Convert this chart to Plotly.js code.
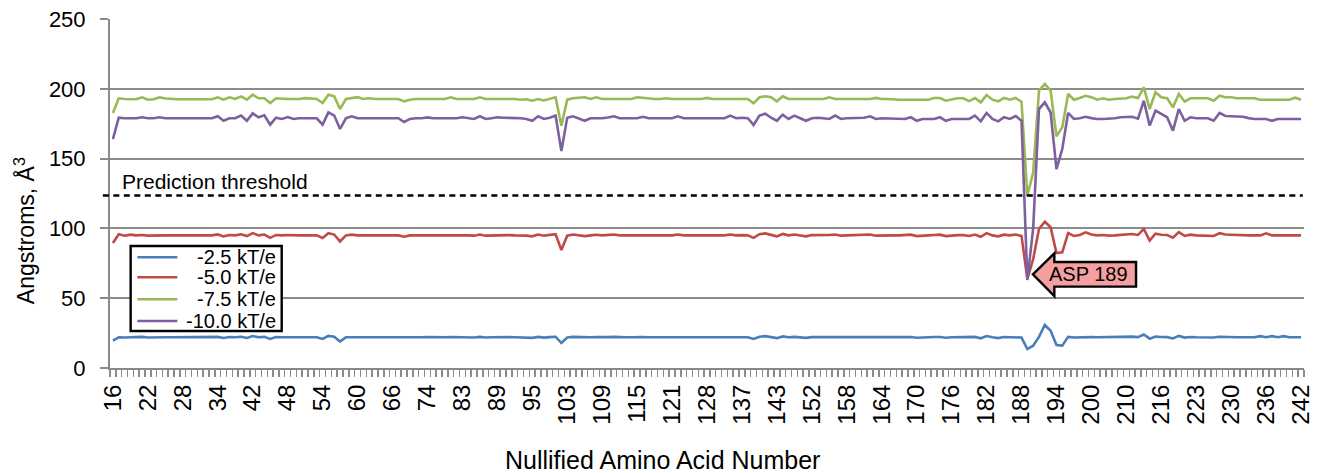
<!DOCTYPE html>
<html>
<head>
<meta charset="utf-8">
<script src="https://cdn.plot.ly/plotly-3.0.1.min.js"></script>
<style>
html,body{margin:0;padding:0;background:#fff;}
#chart{width:1325px;height:473px;}
</style>
</head>
<body>
<div id="chart"></div>
<script>
// Nullified amino acid numbers (categories)
const categories = [
16,17,18,19,20,21, 22,23,24,25,26,27, 28,29,30,31,32,33, 34,35,36,37,40,41,
42,43,44,45,46,47, 48,49,50,51,52,53, 54,55,56,57,58,59, 60,61,62,63,64,65,
66,67,68,69,72,73, 74,75,76,77,81,82, 83,84,85,86,87,88, 89,90,91,92,93,94,
95,96,97,98,101,102, 103,104,105,106,107,108, 109,110,111,112,113,114, 115,116,117,118,119,120,
121,122,123,124,126,127, 128,129,130,131,135,136, 137,138,139,140,141,142, 143,144,145,146,150,151,
152,153,154,155,156,157, 158,159,160,161,162,163, 164,165,166,167,168,169, 170,171,172,173,174,175,
176,177,178,179,180,181, 182,183,184,185,186,187, 188,189,190,191,192,193, 194,195,196,197,198,199,
200,201,202,203,208,209, 210,211,212,213,214,215, 216,217,218,219,221,222, 223,224,225,226,228,229,
230,231,232,233,234,235, 236,237,238,239,240,241, 242
];

// Labelled ticks on the x axis
const tickLabels = [16,22,28,34,42,48,54,60,66,74,83,89,95,103,109,115,121,128,137,143,152,158,164,170,176,182,188,194,200,210,216,223,230,236,242];

// -2.5 kT/e
const s25 = [
19.6,22,21.8,22,22,22.3,21.8,22,22.3,22,
22,22,22,22,22,22,22,22,22.3,21.5,
22.2,22,22.4,21.5,22.9,22,22.3,20.8,22.2,22,
22.2,22,22,22,22,22,20.8,23,22.4,18.9,
22,22.2,22,22,22,22,22,22,22,22,
21.5,22,22,22,22.2,22,22,22,22.2,22,
22.2,22,21.8,22.3,21.8,22,22.2,22.1,22.1,22,
22,21.8,21.6,22.3,21.8,22.1,22.4,17.9,21.8,22.3,
22.2,21.6,22,22.2,22,22.1,22.3,22,22,22,
22.2,22.2,22,22,22,22,22,22.3,22,22,
22,22,22.2,22,22,22,22.3,22,22.1,22,
20.8,22.4,22.8,22.1,21.4,22.6,22,22.3,22,21.6,
22.1,22.1,22,22.2,22.3,21.8,22,22.1,22,22.1,
22.3,21.8,22,22,22,22,22,22.2,21.7,22,
22,22.2,22.2,21.7,22,22.1,22.1,21.8,22.3,21.3,
22.9,22,21.4,22.2,22,22.3,21.8,13.6,16,22.3,
30.8,26.7,16.5,16,22.3,21.8,22,22.4,22.1,22,
22.1,21.8,22,22.2,22.2,22.5,22.1,24,21,22.5,
22.2,22.1,21.2,23,21.8,22.2,22,22,22,21.8,
22.4,22.1,22.1,22,22,22,22,22.8,22,22.8,
22,22.8,22,22,22
];

// -5.0 kT/e
const s50 = [
89.6,95.8,94.8,95.5,95,95.3,94.8,95,95.3,95,
95,95,95,95,95,95,95,95,95.7,94.3,
95.3,95,95.8,94.5,96.6,95,95.6,93.2,95.3,95,
95.3,95,95,95,95,95,93.2,96.6,95.6,90.6,
95,95.5,95,95,95,95,95,95,95,95,
94,95,95,95,95.3,95,95,95,95.5,95,
95.3,95,94.8,95.6,94.8,95,95.3,95.2,95.2,95,
95,94.8,94.3,95.6,94.8,95.2,95.8,84.5,94.8,95.6,
95.3,94.5,95,95.4,95,95.2,95.6,95,95,95,
95.4,95.5,95,95,95,95,95,95.6,95,95,
95,95,95.3,95,95,95,95.6,95,95.2,95,
93.2,95.8,96.4,95.2,94.3,96,95,95.6,95,94.3,
95.2,95.2,95,95.3,95.6,94.8,95,95.2,95,95.2,
95.6,94.8,95,95,95,95,95,95.5,94.5,95,
95,95.3,95.5,94.5,95,95.2,95.2,94.6,95.6,94,
96.6,95,94.3,95.5,95,95.6,94.6,63.8,78,99.6,
104.8,100.8,82.4,82.9,96.7,94.6,95.3,97.2,95.6,95,
95.3,94.8,95,95.3,95.3,96,95.3,99.6,91.3,96.2,
95.5,95.3,93.3,97.3,94.6,95.5,95,95,95,94.6,
96.6,95.6,95.5,95.2,95,95,95,95,96.5,95,
95,95,95,95,95
];

// -7.5 kT/e
const s75 = [
182.7,193.2,192.7,192.5,192.5,193.9,192.2,192.5,193.9,193,
192.5,192.5,192.5,192.5,192.5,192.5,192.5,192.5,193.9,192.2,
193.9,192.7,194.6,192.2,195.8,193.2,193.2,189.8,193.2,192.7,
192.7,192.7,192.7,193.3,193.2,192.7,189.8,195.8,194.6,185.5,
192.7,193.2,194,192.7,193.2,192.7,192.7,192.7,193.2,192.7,
191,192.2,192.7,192.7,192.7,193.2,192.7,192.7,193.9,192.7,
192.7,192.7,192.7,193.9,192.7,192.7,192.7,192.7,193.2,192.7,
192.2,192.5,191.5,192.7,191.7,192.7,193.9,173.6,192.2,193.2,
193.5,193.9,192.7,193.9,192.7,192.7,192.7,192.7,193.2,192.7,
193.9,193.5,192.7,192.7,192.7,193.2,192.7,192.7,192.7,192.7,
192.7,192.7,193.5,192.7,192.7,192.7,193.2,192.7,192.7,192.7,
189.6,193.9,194.6,193.9,191,194.6,192.7,192.7,192.7,192.7,
193.2,192.7,192.7,193.9,192.7,192.7,192.7,193.2,192.7,192.7,
192.7,193.5,192.7,192.7,192.2,192.2,192.2,192.2,192.2,192.2,
192.2,193.4,193.4,191.5,192.2,193.2,193.2,191.2,193.4,190.3,
195.5,192.2,191,193.4,192.2,193.4,190.8,123.4,140,198.6,
203.4,198.6,166,172.4,196.3,192.2,193.4,195,194,192.2,
193.2,192.2,192.7,193.2,193.2,194.4,193.4,201,185.5,197.5,
194,193.2,186.7,196.3,190.8,193.2,193.2,193.2,193.2,191.5,
195,194,194,193.2,193.2,193.2,193.2,192.2,192.2,192.2,
192.2,192.2,192.2,193.6,192.2
];

// -10.0 kT/e
const s100 = [
164,179.3,178.9,178.9,178.9,179.6,178.9,178.9,179.6,178.9,
178.9,178.9,178.9,178.9,178.9,178.9,178.9,178.9,180.3,177.1,
178.9,178.9,180.8,177.1,182.4,179.6,181,174.3,179.3,178.4,
179.8,178.4,178.9,178.9,178.9,178.9,174.3,183.1,180.8,171.2,
178.9,180.3,178.9,178.9,178.9,178.9,178.9,178.9,178.9,178.9,
176.2,178.4,178.9,178.9,179.5,178.9,178.9,178.9,178.9,178.9,
179.6,178.9,178.4,180.3,178.4,178.9,179.6,179.3,179.3,178.9,
178.9,178.4,177.1,180.3,178.4,179.3,180.8,155.4,179.3,180.3,
178.9,177.1,178.9,178.9,178.9,179.5,180.3,178.9,178.9,178.9,
178.9,180,178.9,178.9,178.9,178.9,178.9,180.3,178.9,178.9,
178.9,178.9,178.9,178.9,178.9,178.9,180.8,178.9,179.3,178.9,
174.1,180.8,182.2,179.3,177.1,181.5,178.4,180.8,178.9,177.1,
178.9,179.3,178.9,178.4,180.8,178.4,178.9,178.9,178.9,179.3,
180.3,178.4,178.9,178.9,178.9,178.4,178.4,179.6,177.1,178.4,
178.4,178.4,179.6,177.1,178.4,178.4,178.4,178.4,180.8,176.7,
182.7,178.4,176.7,179.6,178.4,180.5,177.1,63,100,185.5,
190.3,183,142.5,156.9,182.7,178.4,178.9,180,179,178.4,
178.4,178.4,178.9,179.6,179.6,180,178.6,191.5,173.6,184.3,
182,179.6,170,185.5,177.1,179.6,178.9,178.9,178.9,177.1,
182.7,180.5,180.5,180,180,179,178.4,178.4,178.4,177.1,
178.4,178.4,178.4,178.4,178.4
];

const seriesNames = ['-2.5 kT/e', '-5.0 kT/e', '-7.5 kT/e', '-10.0 kT/e'];
const seriesValues = [s25, s50, s75, s100];
const seriesColors = ['#4a7ebb', '#be4b48', '#98b954', '#7d60a0'];

const threshold = 123.5;
const thresholdLabel = 'Prediction threshold';
const calloutCategory = 189;
const calloutValue = 63.5;
const calloutLabel = 'ASP 189';
const xTitle = 'Nullified Amino Acid Number';
const yTitle = 'Angstroms, Å<sup>3</sup>';

const FONT = 'Arial, "Liberation Sans", sans-serif';
const xcat = categories.map(String);
const calloutIndex = categories.indexOf(calloutCategory);

const traces = seriesValues.map((vals, i) => ({
  type: 'scatter',
  mode: 'lines',
  x: xcat,
  y: vals,
  name: seriesNames[i],
  showlegend: false,
  line: {color: seriesColors[i], width: 2.6},
  hoverinfo: 'x+y+name'
}));

// Boxed legend in the lower-left of the plot (paper coordinates)
const legendBox = {x0: 0.0173, x1: 0.1438, y0: 0.106, y1: 0.3496};
const legendRowsY = [0.3172, 0.2599, 0.1968, 0.1347];
const legendShapes = [{
  type: 'rect', xref: 'paper', yref: 'paper',
  x0: legendBox.x0, x1: legendBox.x1, y0: legendBox.y0, y1: legendBox.y1,
  fillcolor: '#ffffff', line: {color: '#000000', width: 2.4}
}].concat(seriesNames.map((n, i) => ({
  type: 'line', xref: 'paper', yref: 'paper',
  x0: 0.0229, x1: 0.0564, y0: legendRowsY[i], y1: legendRowsY[i],
  line: {color: seriesColors[i], width: 2.6}
})));
const legendTexts = seriesNames.map((n, i) => ({
  xref: 'paper', yref: 'paper', x: 0.1395, y: legendRowsY[i],
  xanchor: 'right', yanchor: 'middle', showarrow: false,
  text: n, font: {family: FONT, size: 20, color: '#000000'}, borderpad: 0
}));

const layout = {
  width: 1325,
  height: 473,
  margin: {l: 110, r: 21, t: 19, b: 105, pad: 0},
  paper_bgcolor: '#ffffff',
  plot_bgcolor: '#ffffff',
  font: {family: FONT, color: '#000000', size: 22},
  showlegend: false,
  xaxis: {
    type: 'category',
    range: [-0.5, 204.5],
    tickmode: 'array',
    tickvals: xcat,
    ticktext: categories.map(c => tickLabels.includes(c) ? String(c) : ''),
    tickangle: -90,
    tickson: 'boundaries',
    ticks: 'outside',
    ticklen: 7,
    tickwidth: 1.5,
    tickcolor: '#8a8a8a',
    tickfont: {family: FONT, size: 24, color: '#000000'},
    ticklabelstandoff: 5,
    showgrid: false,
    zeroline: false,
    showline: true,
    linecolor: '#8a8a8a',
    linewidth: 2,
    automargin: false
  },
  yaxis: {
    range: [0, 250],
    tickmode: 'linear',
    tick0: 0,
    dtick: 50,
    ticks: 'outside',
    ticklen: 8,
    tickwidth: 2,
    tickcolor: '#8a8a8a',
    tickfont: {family: FONT, size: 22, color: '#000000'},
    ticklabelstandoff: 10,
    showgrid: true,
    gridcolor: '#8c8c8c',
    gridwidth: 2,
    zeroline: false,
    showline: true,
    linecolor: '#8a8a8a',
    linewidth: 2,
    automargin: false
  },
  shapes: [
    {
      type: 'line', xref: 'paper', yref: 'y',
      x0: -0.006, x1: 0.999, y0: threshold, y1: threshold,
      line: {color: '#000000', width: 2.5, dash: '6px,4.5px'}
    },
    {
      type: 'path', xref: 'x', yref: 'y',
      xsizemode: 'pixel', ysizemode: 'pixel',
      xanchor: calloutIndex, yanchor: calloutValue,
      path: 'M 5.5,5 L 27,26 L 27,17.3 L 108.7,17.3 L 108.7,-7.3 L 27,-7.3 L 27,-16.7 Z',
      fillcolor: '#f4a0a0',
      line: {color: '#000000', width: 2.4}
    }
  ].concat(legendShapes),
  annotations: [
    {
      xref: 'paper', yref: 'y', x: 0.0085, y: threshold,
      xanchor: 'left', yanchor: 'bottom', yshift: 1,
      text: thresholdLabel, showarrow: false,
      font: {family: FONT, size: 21, color: '#000000'}
    },
    {
      xref: 'x', yref: 'y', x: calloutIndex, y: calloutValue,
      xshift: 61, yshift: 5, xanchor: 'center', yanchor: 'middle',
      text: calloutLabel, showarrow: false,
      font: {family: FONT, size: 20, color: '#000000'}
    },
    {
      xref: 'paper', yref: 'paper', x: 0.463, y: -0.2636,
      xanchor: 'center', yanchor: 'middle', showarrow: false,
      text: xTitle, font: {family: FONT, size: 25, color: '#000000'}
    },
    {
      xref: 'paper', yref: 'paper', x: -0.0712, y: 0.395,
      xanchor: 'center', yanchor: 'middle', textangle: -90, showarrow: false,
      text: yTitle, font: {family: FONT, size: 23, color: '#000000'}
    }
  ].concat(legendTexts)
};

Plotly.newPlot('chart', traces, layout, {displayModeBar: false, staticPlot: true});
</script>
</body>
</html>
